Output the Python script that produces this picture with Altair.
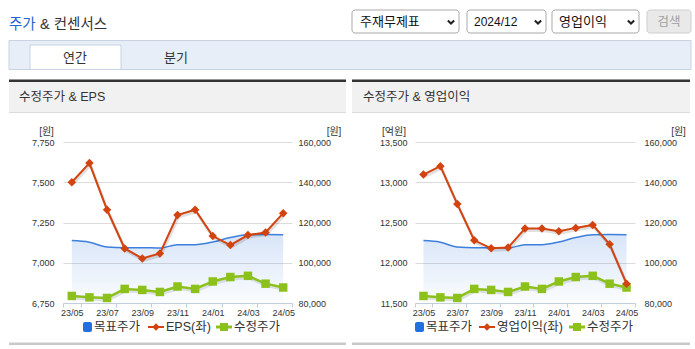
import json
import altair as alt
import pandas as pd

# ---------------- data ----------------
months = ["23/05", "23/06", "23/07", "23/08", "23/09", "23/10", "23/11",
          "23/12", "24/01", "24/02", "24/03", "24/04", "24/05"]
target_price = [111000, 110200, 107800, 107500, 107500, 107300, 109000,
                109000, 110300, 112500, 113900, 114000, 113900]
adj_price = [83500, 82800, 82500, 87000, 86500, 85500, 88200,
             87000, 90700, 92900, 93500, 89600, 87700]
eps = [7500, 7619, 7329, 7089, 7027, 7058, 7296,
       7329, 7166, 7110, 7172, 7188, 7308]
op_income = [13095, 13200, 12729, 12279, 12179, 12188, 12425,
             12425, 12391, 12433, 12470, 12229, 11740]

price_ticks = [80000, 100000, 120000, 140000, 160000]
eps_ticks = [6750, 7000, 7250, 7500, 7750]
op_ticks = [11500, 12000, 12500, 13000, 13500]
x_tick_pos = [-0.5, 0.5, 2.5, 4.5, 6.5, 8.5, 10.5, 12.5]

legend_left = ["목표주가", "EPS(좌)", "수정주가"]
legend_right = ["목표주가", "영업이익(좌)", "수정주가"]

# ---------------- style ----------------
KR = "Liberation Sans, 'Noto Sans CJK KR'"
NUM = "Liberation Sans"
TXT = "#333333"
RED = "#d2430f"
GREEN = "#8cc11c"
BLUE = "#3d7fdc"
LEG_BLUE = "#2070e0"
AXIS = "#c3cddc"
GRID = "#dcdcdc"

OX, OY = 63, 142          # left plot origin on the page
PH = 161
LW, RW = 229, 220
SPACING = 415 - OX - LW


def one():
    return alt.Data(values=[{"k": 0}])


def rect(x1, y1, x2, y2, fill, stroke=None, sw=1, r=0, opacity=1):
    kw = dict(fill=fill, opacity=opacity)
    if stroke:
        kw.update(stroke=stroke, strokeWidth=sw)
    if r:
        kw["cornerRadius"] = r
    return alt.Chart(one()).mark_rect(**kw).encode(
        x=alt.value(x1 - OX), x2=alt.value(x2 - OX),
        y=alt.value(y1 - OY), y2=alt.value(y2 - OY))


def hline(x1, x2, y, color, sw=1):
    return alt.Chart(one()).mark_rule(color=color, strokeWidth=sw).encode(
        x=alt.value(x1 - OX), x2=alt.value(x2 - OX), y=alt.value(y - OY))


def txt(s, x, y, size=12, color=TXT, align="left", font=KR):
    return alt.Chart(one()).mark_text(
        text=s, align=align, baseline="middle", fontSize=size,
        color=color, font=font).encode(x=alt.value(x - OX), y=alt.value(y - OY))


def sym(shape, x, y, size, color, filled=True, sw=1):
    return alt.Chart(one()).mark_point(
        shape=shape, size=size, color=color, filled=filled, opacity=1,
        strokeWidth=sw).encode(x=alt.value(x - OX), y=alt.value(y - OY))


CHEV = "M-1,-0.5L0,0.5L1,-0.5"

chrome = [
    rect(0, 0, 695, 349, fill="white", opacity=0),
    # page title
    txt("주가", 9, 25, size=14.5, color="#1f63cf"),
    txt("& 컨센서스", 40, 25, size=14.5, color=TXT),
    # selectors
    rect(352, 10, 459, 33, fill="white", stroke="#a9a9a9", r=3),
    rect(467, 10, 546, 33, fill="white", stroke="#a9a9a9", r=3),
    rect(552, 10, 639, 33, fill="white", stroke="#a9a9a9", r=3),
    rect(647, 10, 691, 33, fill="#e9e9e9", stroke="#cfcfcf", r=3),
    txt("주재무제표", 360, 22, size=13, color="#111"),
    txt("2024/12", 474, 22, size=12, color="#111"),
    txt("영업이익", 559, 22, size=13, color="#111"),
    txt("검색", 669, 22, size=12.5, color="#a0a0a0", align="center"),
    sym(CHEV, 451, 22, 40, "#222", filled=False, sw=2),
    sym(CHEV, 538, 22, 40, "#222", filled=False, sw=2),
    sym(CHEV, 631, 22, 40, "#222", filled=False, sw=2),
    # tabs
    rect(9, 40.5, 691, 69.5, fill="#e8eef8", stroke="#c7d2e3"),
    rect(30, 45, 121, 69.5, fill="white", stroke="#c7d2e3"),
    txt("연간", 75, 57.5, size=13, align="center"),
    txt("분기", 176, 57.5, size=13, align="center"),
]

for L, R, title, tx in [(9, 346, "수정주가 & EPS", 19), (352, 690, "수정주가 & 영업이익", 363)]:
    chrome += [
        rect(L, 79.5, R, 82, fill="#333333"),
        rect(L, 82, R, 112, fill="#f1f1f1"),
        hline(L, R, 112.5, "#dcdcdc"),
        txt(title, tx, 97, size=12.5),
        rect(L, 342.5, R, 345, fill="#c9c9c9"),
    ]

chrome += [
    txt("[원]", 46.5, 132, size=10, align="center"),
    txt("[원]", 334, 132, size=10, align="center"),
    txt("[억원]", 394, 132, size=10, align="center"),
    txt("[원]", 678.5, 132, size=10, align="center"),
]


def legend(xs, labels):
    bx, tx1, rl, tx2, gl, tx3 = xs
    return [
        rect(bx, 322, bx + 9, 332, fill=LEG_BLUE, r=2),
        txt(labels[0], tx1, 327, size=12.5),
        hline(rl, rl + 16, 327, RED, sw=2),
        sym("diamond", rl + 8, 327, 56, RED),
        txt(labels[1], tx2, 327, size=12.5),
        hline(gl, gl + 16, 327, GREEN, sw=3),
        sym("square", gl + 8, 327, 64, GREEN),
        txt(labels[2], tx3, 327, size=12.5),
    ]


chrome += legend((83, 94, 148, 166, 216, 234), legend_left)
chrome += legend((415, 426, 479, 497, 569, 587), legend_right)

grad = alt.LinearGradient(
    gradient="linear",
    stops=[alt.GradientStop(color="rgba(60,125,220,0.20)", offset=0),
           alt.GradientStop(color="rgba(60,125,220,0.02)", offset=1)],
    x1=0, x2=0, y1=0, y2=1)


def panel(red_vals, red_ticks, width, pad_l, pad_r):
    df = pd.DataFrame({"idx": list(range(len(months))), "month": months,
                       "target": target_price, "price": adj_price, "red": red_vals})
    step = width / len(months)
    label_expr = "datum.value < 0 ? '' : " + json.dumps(months) + "[round(datum.value - 0.5)]"
    x = alt.X("idx:Q",
              scale=alt.Scale(domain=[-0.5, len(months) - 0.5], nice=False, zero=False),
              axis=alt.Axis(values=x_tick_pos, labelExpr=label_expr, labelOffset=-step / 2,
                            labelFlush=False, labelOverlap=False, grid=False, title=None,
                            tickSize=4, tickColor=AXIS, domainColor=AXIS, labelFont=NUM,
                            labelFontSize=9, labelColor=TXT, labelPadding=1))
    pscale = alt.Scale(domain=[price_ticks[0], price_ticks[-1]], nice=False, zero=False)
    paxis = alt.Axis(orient="right", values=price_ticks, format=",.0f", grid=False, ticks=False,
                     domain=False, title=None, labelFont=NUM, labelFontSize=9,
                     labelColor=TXT, labelPadding=pad_r)
    rscale = alt.Scale(domain=[red_ticks[0], red_ticks[-1]], nice=False, zero=False)
    raxis = alt.Axis(orient="left", values=red_ticks, format=",.0f", grid=True, gridColor=GRID,
                     ticks=False, domain=False, title=None, labelFont=NUM, labelFontSize=9,
                     labelColor=TXT, labelPadding=pad_l)
    base = alt.Chart(df)
    yp = alt.Y("target:Q", scale=pscale, axis=paxis)
    yg = alt.Y("price:Q", scale=pscale, axis=paxis)
    yr = alt.Y("red:Q", scale=rscale, axis=raxis)
    price_layer = alt.layer(
        base.mark_area(interpolate="monotone", color=grad).encode(
            x=x, y=yp, y2=alt.datum(price_ticks[0])),
        base.mark_line(interpolate="monotone", color=BLUE, strokeWidth=1.5).encode(x=x, y=yp),
        base.mark_line(color="#000", opacity=0.1, strokeWidth=3, xOffset=1, yOffset=2).encode(x=x, y=yg),
        base.mark_line(color=GREEN, strokeWidth=2.5).encode(x=x, y=yg),
        base.mark_point(shape="square", filled=True, size=72, color=GREEN, opacity=1).encode(x=x, y=yg),
    )
    red_layer = alt.layer(
        base.mark_line(color="#000", opacity=0.12, strokeWidth=3, xOffset=1, yOffset=2).encode(x=x, y=yr),
        base.mark_line(color=RED, strokeWidth=2).encode(x=x, y=yr),
        base.mark_point(shape="diamond", filled=True, size=72, color=RED, opacity=1).encode(x=x, y=yr),
    )
    return price_layer, red_layer


lp, lr = panel(eps, eps_ticks, LW, 9, 6)
rp, rr = panel(op_income, op_ticks, RW, 8, 9)

left = alt.layer(*chrome, lp, lr).resolve_scale(y="independent").properties(width=LW, height=PH)
right = alt.layer(rp, rr).resolve_scale(y="independent").properties(width=RW, height=PH)

chart = alt.hconcat(left, right, spacing=SPACING, bounds="flush").properties(
    padding=0, background="white",
    autosize=alt.AutoSizeParams(type="pad")
).configure_view(stroke=None)

chart.save("out.html", embed_options={"renderer": "svg", "actions": False})
